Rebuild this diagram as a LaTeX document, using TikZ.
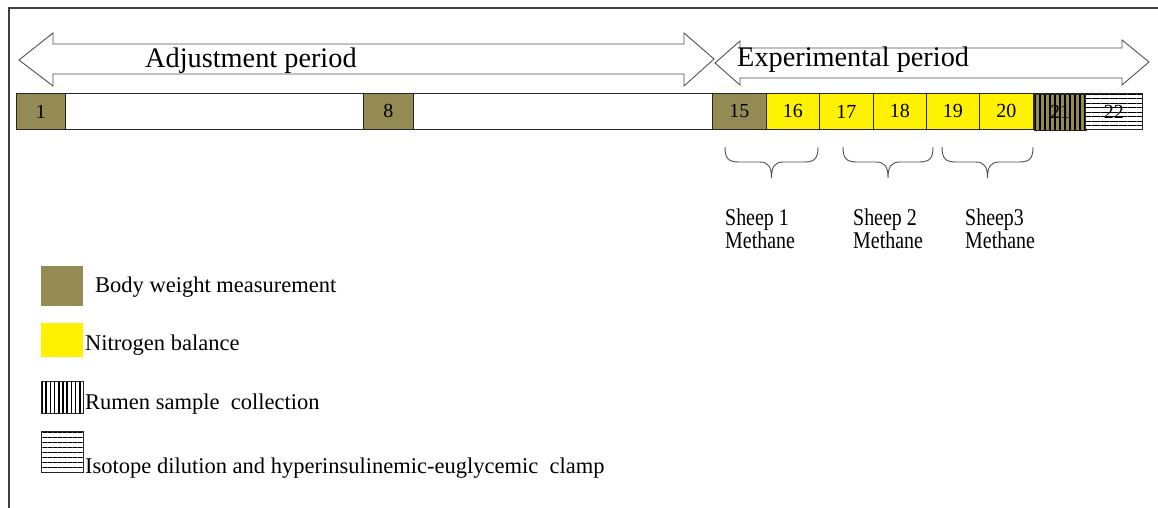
\documentclass[tikz,border=0pt]{standalone}
\usepackage{fontspec}
\setmainfont{Liberation Serif}
\usetikzlibrary{patterns.meta}
\definecolor{khaki}{HTML}{948A54}
\definecolor{framegray}{HTML}{404040}
\definecolor{arrowgray}{HTML}{505050}

\begin{document}
\begin{tikzpicture}[x=1pt,y=-1pt,
  arrowline/.style={draw=arrowgray,line width=0.9pt,fill=white,line join=miter},
  heading/.style={anchor=base west,inner sep=0pt,font=\fontsize{28.3}{32}\selectfont},
  cell/.style={draw=black!85,line width=0.8pt,anchor=north west,inner sep=0pt,
    minimum height=36pt,font=\fontsize{20}{24}\selectfont},
  bw/.style={cell,fill=khaki},
  nb/.style={cell,fill=yellow},
  rumen/.style={cell,preaction={fill=khaki},
    pattern={Lines[angle=90,distance=5pt,line width=2.4pt]},pattern color=black},
  iso/.style={cell,preaction={fill=white},
    pattern={Lines[angle=0,distance=4.5pt,line width=0.8pt]},pattern color=black},
  keybox/.style={anchor=north west,inner sep=0pt,minimum width=42pt},
  keytext/.style={anchor=base west,inner sep=0pt,font=\fontsize{22.5}{26}\selectfont},
  sheep/.style={anchor=base west,inner sep=0pt,font=\fontsize{24}{22}\selectfont},
  brace/.style={draw=arrowgray,line width=0.9pt}
]
\useasboundingbox (0,0) rectangle (1158,508);

% page frame (left and top edge only)
\draw[framegray,line width=1.2pt] (9,508) -- (9,8) -- (1158,8);

% period arrows
\draw[arrowline] (19,60) -- (53,33) -- (53,44) -- (684,44) -- (684,33) -- (714,59)
  -- (684,86) -- (684,74) -- (53,74) -- (53,86) -- cycle;
\draw[arrowline] (715,63) -- (740,41) -- (740,48) -- (1122,48) -- (1122,40) -- (1149,62)
  -- (1122,85) -- (1122,78) -- (740,78) -- (740,85) -- cycle;
\node[heading] (adj) at (145,68) {Adjustment period};
\node[heading] (exp) at (737,67) {Experimental period};

% timeline of days
\node[cell,minimum width=1126pt] (bar) at (16,93) {};
\node[bw,minimum width=49pt] (d1) at (16,93) {1};
\node[bw,minimum width=50pt] (d8) at (363,93) {8};
\node[bw,minimum width=54pt] (d15) at (712,93) {15};
\node[nb,minimum width=53pt] (d16) at (766,93) {16};
\node[nb,minimum width=54pt] (d17) at (819,93) {17};
\node[nb,minimum width=53pt] (d18) at (873,93) {18};
\node[nb,minimum width=53pt] (d19) at (926,93) {19};
\node[nb,minimum width=54pt] (d20) at (979,93) {20};
\node[rumen,minimum width=52pt] (d21) at (1033,93) {21};
\node[iso,minimum width=57pt] (d22) at (1085,93) {22};

% methane measurement braces
\foreach \a/\b in {725/818, 843/933, 942/1033}{
  \pgfmathsetmacro\c{(\a+\b)/2}
  \draw[brace] (\a,147) .. controls (\a,158) and (\a+3,162) .. (\a+14,162)
    -- (\c-12,162) .. controls (\c-3,162) and (\c,167) .. (\c,178)
    .. controls (\c,167) and (\c+3,162) .. (\c+12,162)
    -- (\b-14,162) .. controls (\b-3,162) and (\b,158) .. (\b,147);
}
\node[sheep] (s1a) at (725,225) {\scalebox{0.83}[1]{Sheep 1}};
\node[sheep] (s1b) at (725,248) {\scalebox{0.83}[1]{Methane}};
\node[sheep] (s2a) at (853,225) {\scalebox{0.83}[1]{Sheep 2}};
\node[sheep] (s2b) at (853,248) {\scalebox{0.83}[1]{Methane}};
\node[sheep] (s3a) at (965,225) {\scalebox{0.83}[1]{Sheep3}};
\node[sheep] (s3b) at (965,248) {\scalebox{0.83}[1]{Methane}};

% legend
\node[keybox,fill=khaki,minimum height=40pt] (k1) at (41,266) {};
\node[keybox,fill=yellow,minimum height=34pt] (k2) at (41,323) {};
\node[keybox,draw=black!85,line width=0.8pt,preaction={fill=white},
  pattern={Lines[angle=90,distance=4.2pt,line width=1.6pt]},pattern color=black,
  minimum height=32pt] (k3) at (41,381) {};
\node[keybox,draw=black!85,line width=0.8pt,preaction={fill=white},
  pattern={Lines[angle=0,distance=5pt,line width=1pt]},pattern color=black,
  minimum height=41pt] (k4) at (41,431) {};
\node[keytext] (t1) at (95,292) {Body weight measurement};
\node[keytext] (t2) at (85,350) {Nitrogen balance};
\node[keytext] (t3) at (85,409) {Rumen sample\ \ collection};
\node[keytext] (t4) at (85,473) {Isotope dilution and hyperinsulinemic-euglycemic\ \ clamp};
\end{tikzpicture}
\end{document}
